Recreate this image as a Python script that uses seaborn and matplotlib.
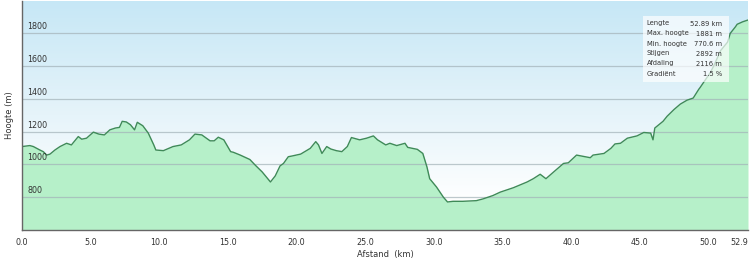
import numpy as np
import pandas as pd
import matplotlib
matplotlib.use("Agg")
import matplotlib.pyplot as plt
import matplotlib.transforms as mtransforms
from matplotlib.colors import LinearSegmentedColormap
import seaborn as sns

# ---- data ----
distance_km = [0.0, 0.57, 0.83, 1.3, 1.55, 1.8, 2.04, 2.4, 2.77, 3.25, 3.6, 4.1, 4.35, 4.7,
               5.2, 5.6, 6.0, 6.4, 6.8, 7.1, 7.3, 7.6, 7.9, 8.2, 8.4, 8.8, 9.2, 9.6, 9.75,
               10.3, 11.0, 11.6, 12.2, 12.6, 13.1, 13.7, 14.0, 14.3, 14.7, 15.2, 15.4, 15.9,
               16.6, 17.0, 17.5, 18.1, 18.45, 18.8, 19.05, 19.4, 19.65, 20.3, 20.6, 21.0,
               21.4, 21.6, 21.85, 22.2, 22.5, 22.9, 23.3, 23.7, 24.0, 24.6, 25.1, 25.6,
               25.9, 26.5, 26.8, 27.3, 27.9, 28.1, 28.8, 29.2, 29.5, 29.7, 30.2, 30.7,
               31.0, 31.4, 32.1, 33.1, 33.6, 34.3, 34.84, 35.8, 36.8, 37.25, 37.75, 38.17,
               38.73, 39.45, 39.8, 40.4, 41.4, 41.6, 42.4, 42.9, 43.2, 43.6, 44.1, 44.8,
               45.3, 45.8, 45.97, 46.1, 46.7, 47.0, 47.5, 47.96, 48.45, 48.9, 49.3, 49.4,
               50.15, 50.4, 50.9, 51.4, 51.6, 51.97, 52.1, 52.5, 52.89]
elevation_m = [1109, 1115, 1109, 1088, 1078, 1057, 1063, 1088, 1109, 1129, 1119, 1170, 1154, 1160,
               1197, 1185, 1180, 1211, 1222, 1226, 1263, 1259, 1242, 1211, 1257, 1236, 1191, 1119, 1088,
               1084, 1109, 1119, 1150, 1185, 1180, 1144, 1144, 1166, 1150, 1078, 1074, 1057,
               1030, 995, 954, 893, 930, 991, 1006, 1047, 1051, 1063, 1078, 1098,
               1139, 1119, 1067, 1109, 1094, 1084, 1078, 1109, 1164, 1150, 1160, 1174,
               1150, 1119, 1129, 1115, 1129, 1104, 1092, 1067, 985, 913, 862, 800,
               771, 775, 775, 779, 790, 810, 831, 858, 893, 913, 940, 913,
               954, 1006, 1010, 1057, 1041, 1057, 1067, 1098, 1125, 1129, 1160, 1174,
               1195, 1191, 1150, 1222, 1263, 1294, 1335, 1368, 1392, 1405, 1458, 1469,
               1561, 1602, 1695, 1746, 1800, 1839, 1855, 1870, 1881]

x_ticks = [0, 5, 10, 15, 20, 25, 30, 35, 40, 45, 50, 52.89]
x_tick_labels = ["0.0", "5.0", "10.0", "15.0", "20.0", "25.0", "30.0", "35.0", "40.0", "45.0", "50.0", "52.9"]
y_ticks = [800, 1000, 1200, 1400, 1600, 1800]
y_tick_labels = ["800", "1000", "1200", "1400", "1600", "1800"]

stat_names = ["Lengte", "Max. hoogte", "Min. hoogte", "Stijgen", "Afdaling", "Gradiënt"]
stat_values = ["52.89 km", "1881 m", "770.6 m", "2892 m", "2116 m", "1.5 %"]

df = pd.DataFrame({"Afstand": distance_km, "Hoogte": elevation_m})

sns.set_style("white")
plt.rcParams["font.family"] = ["DejaVu Sans"]

fig = plt.figure(figsize=(7.5, 2.64), dpi=100)
ax = fig.add_axes([22 / 750, 34 / 264, 726 / 750, 229.5 / 264])

x_min, x_max = 0, 52.89
y_min, y_max = 600, 2000
ax.set_xlim(x_min, x_max)
ax.set_ylim(y_min, y_max)

# background gradient (light blue at top, white lower down)
cmap = LinearSegmentedColormap.from_list(
    "bg", [(0.0, "#ffffff"), (0.12, "#ffffff"), (0.5, "#e6f4fa"), (1.0, "#c6e7f6")])
grad = np.linspace(0, 1, 256).reshape(-1, 1)
ax.imshow(grad, extent=[x_min, x_max, y_min, y_max], origin="lower", aspect="auto",
          cmap=cmap, zorder=0)

ax.fill_between(df["Afstand"], df["Hoogte"], y_min, color="#b6f0c9", zorder=1, linewidth=0)
sns.lineplot(data=df, x="Afstand", y="Hoogte", ax=ax, color="#3f8a58", linewidth=1.0, zorder=3)

# gridlines
for v in y_ticks:
    ax.axhline(v, color="#a3b2b8", linewidth=0.9, alpha=0.7, zorder=2)

# y tick labels inside plot, above gridlines
ax.set_yticks(y_ticks)
ax.set_yticklabels([])
ax.tick_params(axis="y", length=0)
trans = mtransforms.blended_transform_factory(ax.transAxes, ax.transData)
for v, lab in zip(y_ticks, y_tick_labels):
    ax.text(0.0075, v + 12, lab, transform=trans, ha="left", va="bottom",
            fontsize=5.8, color="#333333", zorder=4)

ax.set_xticks(x_ticks)
ax.set_xticklabels(x_tick_labels, fontsize=5.8, color="#333333")
ax.tick_params(axis="x", direction="out", length=3, width=0.8, color="#555555", pad=3)
for lab in ax.get_xticklabels()[-1:]:
    lab.set_ha("right")
    lab.set_x(52.89)

ax.set_xlabel("Afstand  (km)", fontsize=6, color="#333333", labelpad=2)
ax.set_ylabel("Hoogte (m)", fontsize=6, color="#333333", labelpad=2)

for side in ["top", "right"]:
    ax.spines[side].set_visible(False)
for side in ["left", "bottom"]:
    ax.spines[side].set_color("#666666")
    ax.spines[side].set_linewidth(1.0)
    ax.spines[side].set_zorder(5)

# stats box
box_left, box_top = (642.7 - 22) / 726, 1 - (16 - 0.5) / 229.5
box_w, box_h = 86.6 / 726, 66 / 229.5
ax.add_patch(plt.Rectangle((box_left, box_top - box_h), box_w, box_h, transform=ax.transAxes,
                           facecolor="white", alpha=0.68, edgecolor="none", zorder=6))
row_h = 10.0 / 229.5
for i, (n, val) in enumerate(zip(stat_names, stat_values)):
    yy = box_top - (7.5 / 229.5) - i * row_h
    ax.text(box_left + 4 / 726, yy, n, transform=ax.transAxes, ha="left", va="center",
            fontsize=4.9, color="#333333", zorder=7)
    ax.text(box_left + 79.5 / 726, yy, val, transform=ax.transAxes, ha="right", va="center",
            fontsize=4.9, color="#333333", zorder=7)

fig.savefig("out.png", dpi=100)
